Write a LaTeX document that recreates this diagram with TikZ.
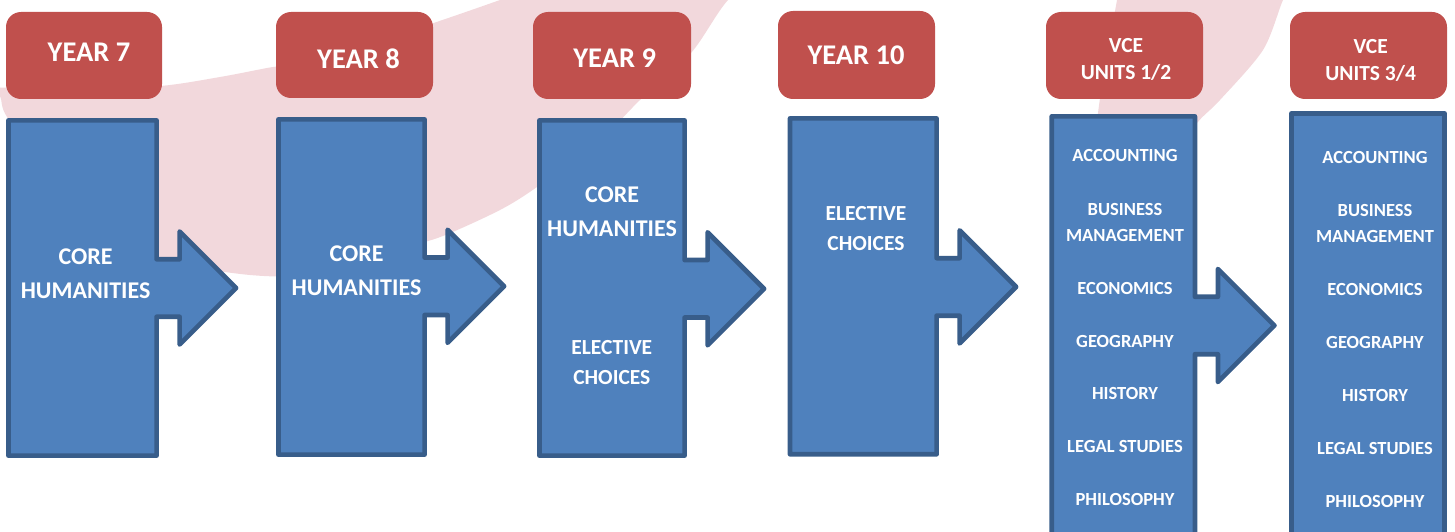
\documentclass[tikz,border=0pt]{standalone}
\usepackage{fontspec}
\setmainfont{Carlito}
\definecolor{pinkbg}{RGB}{242,216,220}
\definecolor{hdrred}{RGB}{192,80,77}
\definecolor{boxblue}{RGB}{79,129,189}
\definecolor{boxline}{RGB}{56,93,138}
\tikzset{
  hdr/.style={fill=hdrred, rounded corners=15pt},
  bluearrow/.style={fill=boxblue, draw=boxline, line width=4.7pt, line join=round},
  hdrtext/.style={text=white, inner sep=0pt, align=center, font=\bfseries\fontsize{28.5}{30}\selectfont},
  vcehdrtext/.style={text=white, inner sep=0pt, align=center, font=\bfseries\fontsize{21.5}{26.5}\selectfont},
  coretext/.style={text=white, inner sep=0pt, align=center, font=\bfseries\fontsize{24}{34}\selectfont},
  electtext/.style={text=white, inner sep=0pt, align=center, font=\bfseries\fontsize{21.5}{29.7}\selectfont},
  subjtext/.style={text=white, inner sep=0pt, align=center, font=\bfseries\fontsize{18.5}{26}\selectfont}
}
% L T R B cy
\newcommand{\steparrow}[5]{%
  \draw[bluearrow] (#1,#2) -- (#3,#2) -- (#3,#5-28.75) -- (#3+23,#5-28.75)
    -- (#3+23,#5-56.5) -- (#3+79.5,#5) -- (#3+23,#5+56.5) -- (#3+23,#5+28.75)
    -- (#3,#5+28.75) -- (#3,#4) -- (#1,#4) -- cycle;}
\begin{document}
\begin{tikzpicture}[x=1pt,y=-1pt]
\useasboundingbox (0,0) rectangle (1455,532);
\clip (0,0) rectangle (1455,532);
% background swooshes
\fill[pinkbg] plot[smooth] coordinates {(775,-40) (728,0) (691,53) (640,100) (600,140) (537,187) (500,210) (443,236) (400,249) (340,268) (290,276) (250,275) (200,268) (160,257) (100,220) (50,175) (7,117) (0,96) (-12,78)}
  -- plot[smooth] coordinates {(-20,88) (0,87.5) (80,88) (160,86) (220,77) (267,68) (300,62) (400,34) (500,0) (530,-12)}
  -- cycle;
\fill[pinkbg] plot[smooth] coordinates {(1121,-25) (1117,0) (1108,50) (1098,113) (1090,200)}
  -- plot[smooth] coordinates {(1140,220) (1172,160) (1197,123) (1220,100) (1263,50) (1283,0) (1297,-25)}
  -- cycle;
% headers
\fill[hdr] (6,12) rectangle (162,99);
\fill[hdr] (276,12) rectangle (433,98);
\fill[hdr] (533,12) rectangle (691,99);
\fill[hdr] (778,11) rectangle (935,99);
\fill[hdr] (1046,12) rectangle (1203,99);
\fill[hdr] (1290,12) rectangle (1447,99);
\node[hdrtext] (h7) at (89,52.5) {YEAR 7};
\node[hdrtext] (h8) at (358.5,58.3) {YEAR 8};
\node[hdrtext] (h9) at (614.7,57.7) {YEAR 9};
\node[hdrtext] (h10) at (856,55.7) {YEAR 10};
\node[vcehdrtext] (h12) at (1126,59.5) {VCE\\UNITS 1/2};
\node[vcehdrtext] (h34) at (1370.7,60.3) {VCE\\UNITS 3/4};
% blue step arrows
\steparrow{8.4}{120.4}{156.6}{455.6}{288}
\steparrow{278.4}{119.4}{424.6}{454.6}{286.3}
\steparrow{539.4}{120.4}{684.6}{455.6}{288.8}
\steparrow{790}{118.4}{936.6}{454.3}{286.9}
\steparrow{1051.7}{116.4}{1194.9}{545}{325.5}
\draw[bluearrow] (1291.4,113.4) rectangle (1444.6,545);
% texts in the blue boxes
\node[coretext] (c7) at (85.6,273.3) {CORE\\HUMANITIES};
\node[coretext] (c8) at (356.5,270.3) {CORE\\HUMANITIES};
\node[coretext] (c9) at (612,212) {CORE\\HUMANITIES};
\node[electtext] (e9) at (611.8,362.2) {ELECTIVE\\CHOICES};
\node[electtext] (e10) at (866,228.7) {ELECTIVE\\CHOICES};
% VCE units 1/2
\node[subjtext] (a12) at (1125,155.3) {ACCOUNTING};
\node[subjtext] (b12) at (1125,222.2) {BUSINESS\\MANAGEMENT};
\node[subjtext] (ec12) at (1125,288.3) {ECONOMICS};
\node[subjtext] (g12) at (1125,341.7) {GEOGRAPHY};
\node[subjtext] (hi12) at (1125,393.3) {HISTORY};
\node[subjtext] (l12) at (1125,446.7) {LEGAL STUDIES};
\node[subjtext] (p12) at (1125,499.3) {PHILOSOPHY};
% VCE units 3/4
\node[subjtext] (a34) at (1375,157.3) {ACCOUNTING};
\node[subjtext] (b34) at (1375,223.7) {BUSINESS\\MANAGEMENT};
\node[subjtext] (ec34) at (1375,289.7) {ECONOMICS};
\node[subjtext] (g34) at (1375,342.7) {GEOGRAPHY};
\node[subjtext] (hi34) at (1375,395) {HISTORY};
\node[subjtext] (l34) at (1375,448) {LEGAL STUDIES};
\node[subjtext] (p34) at (1375,501) {PHILOSOPHY};
\end{tikzpicture}
\end{document}
